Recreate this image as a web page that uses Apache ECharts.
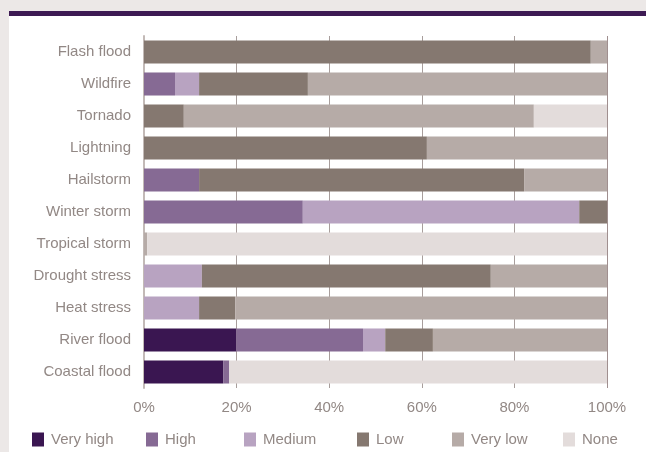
<!DOCTYPE html>
<html>
<head>
<meta charset="utf-8">
<script src="https://cdn.jsdelivr.net/npm/echarts@6/dist/echarts.min.js"></script>
<style>
  html, body { margin: 0; padding: 0; background: #ece8e7; }
  #panel { position: absolute; left: 9px; top: 11px; width: 637px; height: 441px;
           background: #ffffff; border-top: 5px solid #3d1a53; box-sizing: border-box; }
  #chart { position: absolute; left: 0; top: 0; width: 646px; height: 452px; }
</style>
</head>
<body>
<div id="panel"></div>
<div id="chart"></div>
<script>
// Hazard categories, top to bottom
const categories = ['Flash flood', 'Wildfire', 'Tornado', 'Lightning', 'Hailstorm', 'Winter storm',
  'Tropical storm', 'Drought stress', 'Heat stress', 'River flood', 'Coastal flood'];

// Share of exposure (%) per risk level
const veryHigh = [0, 0, 0, 0, 0, 0, 0, 0, 0, 19.9, 17.1];
const high     = [0, 6.7, 0, 0, 11.9, 34.3, 0, 0, 0, 27.4, 1.3];
const medium   = [0, 5.2, 0, 0, 0, 59.7, 0, 12.5, 11.9, 4.8, 0];
const low      = [96.5, 23.5, 8.6, 61.1, 70.2, 6.0, 0, 62.4, 7.8, 10.3, 0];
const veryLow  = [3.5, 64.6, 75.6, 38.9, 17.9, 0, 0.7, 25.1, 80.3, 37.6, 0];
const none     = [0, 0, 15.8, 0, 0, 0, 99.3, 0, 0, 0, 81.6];

const levelNames = ['Very high', 'High', 'Medium', 'Low', 'Very low', 'None'];
const levelValues = [veryHigh, high, medium, low, veryLow, none];
const levelColors = ['#3a1651', '#866a94', '#b8a3c1', '#857870', '#b6aba7', '#e3dcdb'];
const legendLefts = [32, 146, 244, 357, 452, 563];

const textColor = '#928885';
const fontFamily = '"Liberation Sans", Arial, sans-serif';

const chart = echarts.init(document.getElementById('chart'), null, { renderer: 'canvas' });

chart.setOption({
  backgroundColor: 'transparent',
  animation: false,
  textStyle: { fontFamily: fontFamily },
  grid: { left: 144, right: 39, top: 36, bottom: 64, containLabel: false },
  legend: levelNames.map((name, i) => ({
    data: [name],
    left: legendLefts[i],
    top: 432,
    padding: 0,
    icon: 'rect',
    itemWidth: 12,
    itemHeight: 14,
    selectedMode: false,
    textStyle: { color: textColor, fontSize: 15, fontFamily: fontFamily, padding: [0, 0, 0, 2] }
  })),
  xAxis: {
    type: 'value',
    min: 0,
    max: 100,
    interval: 20,
    axisLine: { show: false },
    axisTick: { show: false },
    axisLabel: { formatter: '{value}%', color: textColor, fontSize: 15, margin: 12, fontFamily: fontFamily },
    splitLine: {
      show: true,
      lineStyle: { color: ['#c3bab7', '#a89e9c', '#a89e9c', '#a89e9c', '#a89e9c', '#a08f8f'], width: 1 }
    }
  },
  yAxis: {
    type: 'category',
    data: categories,
    inverse: true,
    axisLine: { show: true, lineStyle: { color: '#c3bab7', width: 2 } },
    axisTick: { show: false },
    axisLabel: { color: textColor, fontSize: 15, margin: 13, fontFamily: fontFamily }
  },
  series: levelNames.map((name, i) => ({
    name: name,
    type: 'bar',
    stack: 'total',
    barCategoryGap: '28%',
    itemStyle: { color: levelColors[i] },
    emphasis: { disabled: true },
    data: levelValues[i]
  }))
});
</script>
</body>
</html>
